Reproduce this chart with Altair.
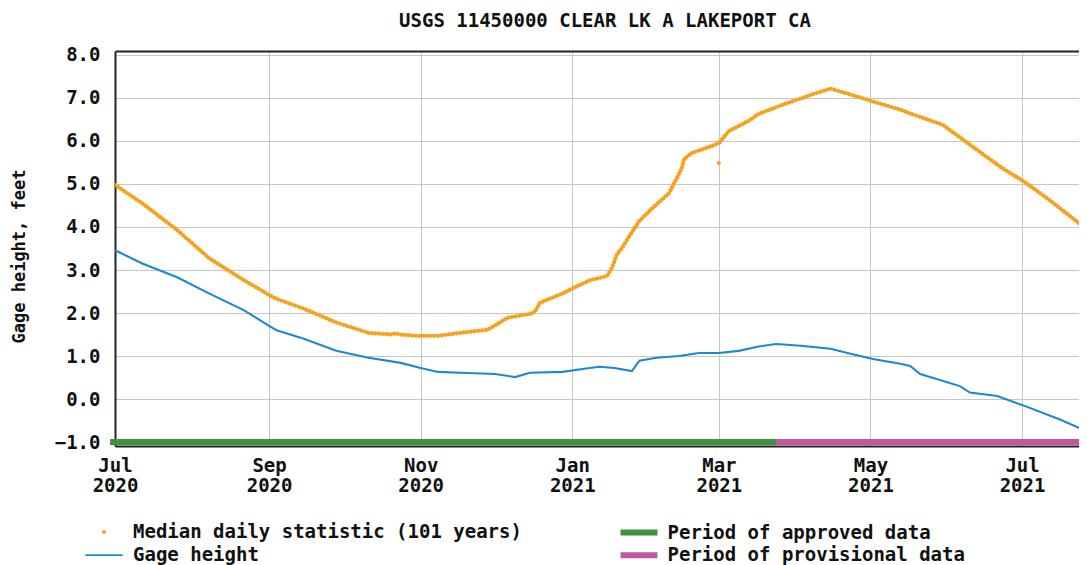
import altair as alt
import pandas as pd

FONT = "DejaVu Sans Mono"
TITLE = "USGS 11450000 CLEAR LK A LAKEPORT CA"
Y_TITLE = "Gage height, feet"

MEDIAN_NAME = "Median daily statistic (101 years)"
GAGE_NAME = "Gage height"
period_names = ["Period of approved data", "Period of provisional data"]
MEDIAN_COLOR = "#f5a21e"
GAGE_COLOR = "#1e88cf"
PERIOD_COLORS = ["#3f933f", "#c4569f"]

median_dates = ["2020-07-01", "2020-07-12", "2020-07-26", "2020-08-08", "2020-08-22",
                "2020-09-01", "2020-09-04", "2020-09-15", "2020-09-28", "2020-10-11",
                "2020-10-20", "2020-10-22", "2020-10-24", "2020-10-30", "2020-11-08",
                "2020-11-17", "2020-11-28", "2020-12-02", "2020-12-06", "2020-12-15",
                "2020-12-17", "2020-12-19", "2020-12-28", "2021-01-01", "2021-01-08",
                "2021-01-15", "2021-01-17", "2021-01-19", "2021-01-21", "2021-01-24",
                "2021-01-28", "2021-02-01", "2021-02-04", "2021-02-09", "2021-02-11",
                "2021-02-14", "2021-02-15", "2021-02-18", "2021-02-26", "2021-03-01",
                "2021-03-05", "2021-03-13", "2021-03-17", "2021-03-27", "2021-04-10",
                "2021-04-15", "2021-04-23", "2021-05-02", "2021-05-13", "2021-05-17",
                "2021-05-30", "2021-06-13", "2021-06-23", "2021-07-02", "2021-07-12",
                "2021-07-27"]
median_values = [4.98, 4.55, 3.93, 3.27, 2.76,
                 2.42, 2.33, 2.10, 1.78, 1.54,
                 1.50, 1.53, 1.50, 1.47, 1.47,
                 1.54, 1.61, 1.75, 1.89, 1.98,
                 2.03, 2.24, 2.45, 2.57, 2.76,
                 2.86, 3.05, 3.37, 3.51, 3.79,
                 4.14, 4.37, 4.53, 4.79, 5.02,
                 5.35, 5.58, 5.72, 5.88, 5.95,
                 6.23, 6.47, 6.63, 6.85, 7.13,
                 7.22, 7.08, 6.92, 6.73, 6.64,
                 6.38, 5.79, 5.37, 5.05, 4.63,
                 3.95]

median_extra_dates = ["2021-03-01"]
median_extra_values = [5.49]

gage_dates = ["2020-07-01", "2020-07-12", "2020-07-26", "2020-08-08", "2020-08-22",
              "2020-09-01", "2020-09-04", "2020-09-15", "2020-09-28", "2020-10-11",
              "2020-10-24", "2020-11-01", "2020-11-08", "2020-11-17", "2020-12-01",
              "2020-12-09", "2020-12-15", "2020-12-28", "2021-01-08", "2021-01-12",
              "2021-01-18", "2021-01-25", "2021-01-28", "2021-02-04", "2021-02-13",
              "2021-02-21", "2021-03-01", "2021-03-09", "2021-03-17", "2021-03-24",
              "2021-04-03", "2021-04-15", "2021-04-23", "2021-05-02", "2021-05-13",
              "2021-05-17", "2021-05-21", "2021-06-06", "2021-06-10", "2021-06-21",
              "2021-07-02", "2021-07-16", "2021-07-27"]
gage_values = [3.46, 3.15, 2.83, 2.45, 2.06,
               1.70, 1.60, 1.40, 1.12, 0.96,
               0.84, 0.72, 0.63, 0.61, 0.58,
               0.51, 0.61, 0.63, 0.72, 0.75,
               0.72, 0.65, 0.89, 0.96, 1.00,
               1.07, 1.07, 1.12, 1.22, 1.28,
               1.24, 1.17, 1.05, 0.93, 0.82,
               0.77, 0.58, 0.30, 0.15, 0.07,
               -0.16, -0.47, -0.75]

period_start = ["2020-06-29", "2021-03-24"]
period_end = ["2021-03-24", "2021-07-30"]
period_level = [-1.0, -1.0]

X_TICKS = ["2020-07-01", "2020-09-01", "2020-11-01", "2021-01-01",
           "2021-03-01", "2021-05-01", "2021-07-01"]
Y_TICKS = [-1.0, 0.0, 1.0, 2.0, 3.0, 4.0, 5.0, 6.0, 7.0, 8.0]
X_START = "2020-07-01"
X_END = "2021-07-23"
Y_DOMAIN = [-1.093, 8.093]

GRID = "#c6c6c6"
FRAME = "#222222"
TEXT = "#111111"
LINE_SYMBOL = "M-3.7,0L3.7,0"
BAR_SYMBOL = "M-2.64,0L2.64,0"


def dt(s, hours=0):
    y, m, d = (int(p) for p in s.split("-"))
    return alt.DateTime(year=y, month=m, date=d, hours=hours, utc=True)


med_df = pd.DataFrame({"date": median_dates, "value": median_values, "series": MEDIAN_NAME})
extra_df = pd.DataFrame({"date": median_extra_dates, "value": median_extra_values,
                         "series": MEDIAN_NAME})
gage_df = pd.DataFrame({"date": gage_dates, "value": gage_values, "series": GAGE_NAME})
per_df = pd.DataFrame({"start": period_start, "end": period_end,
                       "value": period_level, "series": period_names})

x_scale = alt.Scale(type="utc", domain=[dt(X_START), dt(X_END, 22)], nice=False)
y_scale = alt.Scale(domain=Y_DOMAIN, nice=False, zero=False)


def make_legend(x, y, label_offset, row_padding=4, **kw):
    return alt.Legend(
        title=None, orient="none", legendX=x, legendY=y,
        labelFont=FONT, labelFontSize=19, labelFontWeight="bold", labelColor=TEXT,
        labelLimit=0, symbolOffset=9, labelOffset=label_offset, rowPadding=row_padding,
        **kw)


bottom_axis = alt.Axis(
    orient="bottom", values=[dt(s) for s in X_TICKS],
    labelExpr="[utcFormat(datum.value, '%b'), utcFormat(datum.value, '%Y')]",
    title=None, grid=True, gridColor=GRID, gridWidth=1, ticks=False,
    domainColor=FRAME, domainWidth=2, labelPadding=10, labelLineHeight=20,
    labelBaseline="top", labelAlign="center",
)
top_axis = alt.Axis(orient="top", labels=False, ticks=False, grid=False, title=None,
                    domainColor=FRAME, domainWidth=2)
y_axis = alt.Axis(
    values=Y_TICKS, format=".1f", labelPadding=15, ticks=False, grid=True,
    gridColor=GRID, gridWidth=1, domainColor=FRAME, domainWidth=2,
    title=Y_TITLE, titleFont=FONT, titleFontSize=17, titleFontWeight="bold",
    titleColor=TEXT, titleX=-96, titleY=205, titleAlign="center", titleBaseline="middle",
)
y_enc = alt.Y("value:Q", scale=y_scale, axis=y_axis)

bars = alt.Chart(per_df).mark_rule().encode(
    x=alt.X("start:T", scale=x_scale, axis=bottom_axis),
    x2="end:T",
    y=y_enc,
    color=alt.Color("series:N", scale=alt.Scale(domain=period_names, range=PERIOD_COLORS),
                    legend=make_legend(505, 471.6, 18.5, row_padding=-1.4,
                                       symbolType=BAR_SYMBOL,
                                       symbolSize=196, symbolStrokeWidth=6)),
    strokeWidth=alt.value(6),
)
gage_line = alt.Chart(gage_df).mark_line(clip=True).encode(
    x=alt.X("date:T", scale=x_scale, axis=None),
    y=y_enc,
    color=alt.Color("series:N", scale=alt.Scale(domain=[GAGE_NAME], range=[GAGE_COLOR]),
                    legend=make_legend(-29.5, 494.6, 19.5, symbolType=LINE_SYMBOL,
                                       symbolSize=100, symbolStrokeWidth=1.9)),
    strokeWidth=alt.value(2.1),
)
median_line = alt.Chart(med_df).mark_line(strokeCap="round", clip=True).encode(
    x=alt.X("date:T", scale=x_scale, axis=None),
    y=y_enc,
    color=alt.Color("series:N", scale=alt.Scale(domain=[MEDIAN_NAME], range=[MEDIAN_COLOR]),
                    legend=make_legend(-29.5, 471.6, 19.5, symbolType="circle",
                                       symbolSize=16, symbolStrokeWidth=0,
                                       symbolFillColor=MEDIAN_COLOR)),
    strokeWidth=alt.value(4.2),
    strokeDash=alt.value([0.1, 3.6]),
)
median_extra = alt.Chart(extra_df).mark_circle().encode(
    x=alt.X("date:T", scale=x_scale, axis=top_axis),
    y=y_enc,
    color=alt.Color("series:N", scale=alt.Scale(domain=[MEDIAN_NAME], range=[MEDIAN_COLOR]),
                    legend=None),
    size=alt.value(16),
    opacity=alt.value(1),
)

chart = alt.layer(bars, gage_line, median_line, median_extra).resolve_scale(
    color="independent"
).properties(
    width=964, height=395,
    padding={"left": 107, "top": 43, "right": 0, "bottom": 119},
    autosize=alt.AutoSizeParams(type="none"),
    background="white",
    title=alt.Title(TITLE, font=FONT, fontSize=19, fontWeight="bold", color=TEXT,
                    anchor="middle", frame="group", offset=15, dx=8),
).configure_view(strokeWidth=0).configure_axis(
    labelFont=FONT, labelFontSize=19, labelFontWeight="bold", labelColor=TEXT,
)

chart.save("out.html", embed_options={"renderer": "svg", "actions": False})
